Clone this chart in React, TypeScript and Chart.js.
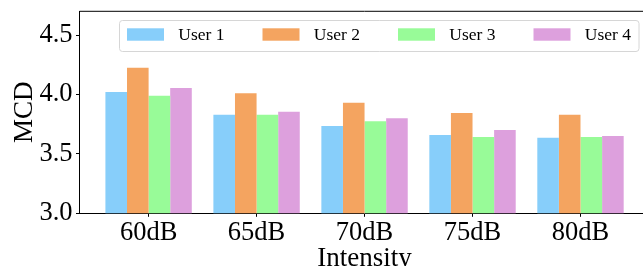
import React, { useEffect, useRef } from "react";
import { Chart, registerables } from "chart.js";

Chart.register(...registerables);

const categories = ["60dB", "65dB", "70dB", "75dB", "80dB"];
const seriesNames = ["User 1", "User 2", "User 3", "User 4"];
const user1 = [4.02, 3.83, 3.735, 3.66, 3.635];
const user2 = [4.225, 4.01, 3.93, 3.845, 3.83];
const user3 = [3.99, 3.83, 3.775, 3.643, 3.643];
const user4 = [4.055, 3.855, 3.8, 3.7, 3.65];
const seriesValues = [user1, user2, user3, user4];
const colors = ["#87CEFA", "#F4A460", "#98FB98", "#DDA0DD"];
const yTicks = [3.0, 3.5, 4.0, 4.5];

const FONT = "'Liberation Serif', 'Times New Roman', 'DejaVu Serif', serif";

const zeroPad = (s: any) => {
  s.paddingTop = 0;
  s.paddingBottom = 0;
  s.paddingLeft = 0;
  s.paddingRight = 0;
};

const framePlugin = {
  id: "frame",
  afterDraw(chart: any) {
    const { ctx, chartArea } = chart;
    ctx.save();
    ctx.strokeStyle = "#000";
    ctx.lineWidth = 1;
    ctx.beginPath();
    ctx.moveTo(chartArea.left, chartArea.top);
    ctx.lineTo(chartArea.right, chartArea.top);
    ctx.stroke();

    // legend
    const lx = 119.5, ly = 20.5, lw = 519.5, lh = 31, r = 3;
    ctx.beginPath();
    ctx.moveTo(lx + r, ly);
    ctx.lineTo(lx + lw - r, ly);
    ctx.quadraticCurveTo(lx + lw, ly, lx + lw, ly + r);
    ctx.lineTo(lx + lw, ly + lh - r);
    ctx.quadraticCurveTo(lx + lw, ly + lh, lx + lw - r, ly + lh);
    ctx.lineTo(lx + r, ly + lh);
    ctx.quadraticCurveTo(lx, ly + lh, lx, ly + lh - r);
    ctx.lineTo(lx, ly + r);
    ctx.quadraticCurveTo(lx, ly, lx + r, ly);
    ctx.closePath();
    ctx.fillStyle = "rgba(255,255,255,0.8)";
    ctx.fill();
    ctx.strokeStyle = "#d6d6d6";
    ctx.stroke();

    ctx.font = `17.5px ${FONT}`;
    ctx.textBaseline = "middle";
    ctx.textAlign = "left";
    chart.data.datasets.forEach((ds: any, i: number) => {
      const px = 127 + i * 135.5;
      ctx.fillStyle = ds.backgroundColor;
      ctx.fillRect(px, 28.3, 37, 12.4);
      ctx.fillStyle = "#000";
      ctx.fillText(ds.label, px + 51.3, 35);
    });
    ctx.restore();
  },
};

export default function App() {
  const ref = useRef<HTMLCanvasElement>(null);
  useEffect(() => {
    if (!ref.current) return;
    const chart = new Chart(ref.current, {
      type: "bar",
      data: {
        datasets: seriesNames.map((name, i) => ({
          label: name,
          data: seriesValues[i].map((v, j) => ({ x: j, y: v })),
          backgroundColor: colors[i],
          borderWidth: 0,
          categoryPercentage: 0.8,
          barPercentage: 1.0,
        })),
      },
      options: {
        animation: false,
        responsive: false,
        maintainAspectRatio: false,
        layout: { padding: { left: 0, right: 50.4, top: 11.3, bottom: 0 } },
        plugins: { legend: { display: false }, tooltip: { enabled: false } },
        scales: {
          x: {
            type: "linear",
            offset: false,
            min: -0.64,
            max: 4.64,
            afterBuildTicks: (axis: any) => {
              axis.ticks = categories.map((_, i) => ({ value: i }));
            },
            afterFit: (s: any) => {
              s.height = 52.7;
              zeroPad(s);
            },
            ticks: {
              callback: (v: any) => categories[Math.round(Number(v))] ?? "",
              font: { family: FONT, size: 26.5 },
              color: "#000",
              padding: 0,
              maxRotation: 0,
              autoSkip: false,
            },
            grid: {
              display: true,
              offset: false,
              drawOnChartArea: false,
              drawTicks: true,
              tickLength: 3.5,
              tickColor: "#000",
              tickWidth: 1,
            },
            border: { display: true, color: "#000", width: 1 },
            title: {
              display: true,
              text: "Intensity",
              font: { family: FONT, size: 27, lineHeight: 1.2 },
              color: "#000",
              padding: { top: 0, bottom: -9 },
            },
          },
          y: {
            min: 3.0,
            max: 4.7,
            afterBuildTicks: (axis: any) => {
              axis.ticks = yTicks.map((v) => ({ value: v }));
            },
            afterFit: (s: any) => {
              s.width = 79.5;
              zeroPad(s);
            },
            ticks: {
              callback: (v: any) => Number(v).toFixed(1),
              font: { family: FONT, size: 26.5 },
              color: "#000",
              padding: 3.5,
            },
            grid: {
              display: true,
              drawOnChartArea: false,
              drawTicks: true,
              tickLength: 3.5,
              tickColor: "#000",
              tickWidth: 1,
            },
            border: { display: true, color: "#000", width: 1 },
            title: {
              display: true,
              text: "MCD",
              font: { family: FONT, size: 27, lineHeight: 1.2 },
              color: "#000",
              padding: { top: 9, bottom: 0 },
            },
          },
        },
      },
      plugins: [framePlugin],
    } as any);
    return () => chart.destroy();
  }, []);

  return (
    <div
      style={{
        position: "fixed",
        left: 0,
        top: 0,
        width: 643,
        height: 266,
        overflow: "hidden",
        background: "#fff",
      }}
    >
      <canvas ref={ref} width={700} height={266} style={{ width: 700, height: 266, display: "block" }} />
    </div>
  );
}
